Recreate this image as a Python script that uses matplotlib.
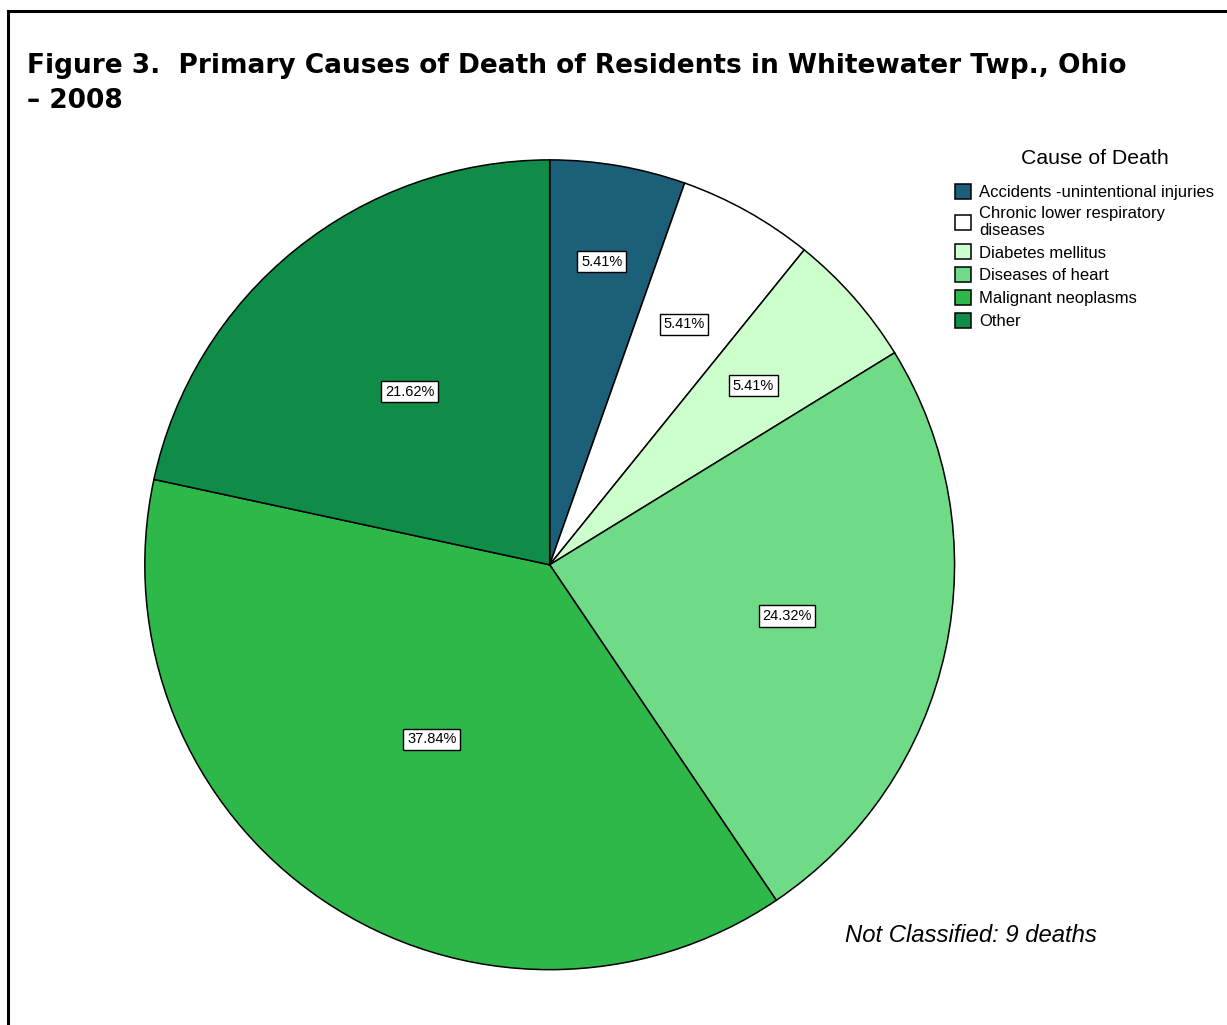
import matplotlib.pyplot as plt
import numpy as np
from matplotlib.lines import Line2D

plt.rcParams['font.family'] = ['Liberation Sans', 'DejaVu Sans']

causes = ["Accidents -unintentional injuries",
          "Chronic lower respiratory\ndiseases",
          "Diabetes mellitus",
          "Diseases of heart",
          "Malignant neoplasms",
          "Other"]
shares = [5.41, 5.41, 5.41, 24.32, 37.84, 21.62]
colors = ["#1c5f78", "#ffffff", "#ccffcc", "#70db87", "#2fb84a", "#0f8c47"]
label_r = [0.76, 0.68, 0.67, 0.60, 0.52, 0.55]

fig = plt.figure(figsize=(12.27, 10.25), dpi=100)
ax = fig.add_axes([0.118, 0.054, 0.660, 0.790])

wedges, _ = ax.pie(shares, colors=colors, startangle=90, counterclock=False,
                   radius=1, wedgeprops=dict(edgecolor="black", linewidth=1.1))
ax.set_xlim(-1, 1)
ax.set_ylim(-1, 1)
ax.set_aspect("equal")
ax.axis("off")

# percentage labels in boxes
for w, v, r in zip(wedges, shares, label_r):
    ang = np.deg2rad((w.theta1 + w.theta2) / 2)
    ax.text(r * np.cos(ang), r * np.sin(ang), f"{v:.2f}%", ha="center", va="center",
            fontsize=10.5, bbox=dict(boxstyle="square,pad=0.25", fc="white", ec="black", lw=1))

title_font = dict(family="DejaVu Sans", fontsize=19, fontweight="heavy", ha="left", va="center")
fig.text(27 / 1227, 1 - 66 / 1025,
         "Figure 3.  Primary Causes of Death of Residents in Whitewater Twp., Ohio", **title_font)
fig.text(27 / 1227, 1 - 101 / 1025, "– 2008", **title_font)

fig.text(1095 / 1227, 1 - 159 / 1025, "Cause of Death", fontsize=15.3, ha="center", va="center")
leg = fig.legend(wedges, causes, loc="upper left", bbox_to_anchor=(948 / 1227, 1 - 177 / 1025),
                 fontsize=12, frameon=False, handlelength=1.0, handleheight=1.0,
                 handletextpad=0.45, labelspacing=0.4, borderaxespad=0)
for h in leg.legend_handles:
    h.set_linewidth(1.1)
for t in leg.get_texts():
    t.set_linespacing(1.1)

fig.text(971 / 1227, 1 - 936 / 1025, "Not Classified: 9 deaths", fontsize=17.2, style="italic",
         ha="center", va="center")

# frame around the page
fig.add_artist(Line2D([8 / 1227, 1.01], [1 - 11 / 1025] * 2, transform=fig.transFigure,
                      color="black", lw=2.2))
fig.add_artist(Line2D([8 / 1227] * 2, [1 - 11 / 1025, -0.01], transform=fig.transFigure,
                      color="black", lw=2.2))

fig.savefig("out.png", dpi=100)
